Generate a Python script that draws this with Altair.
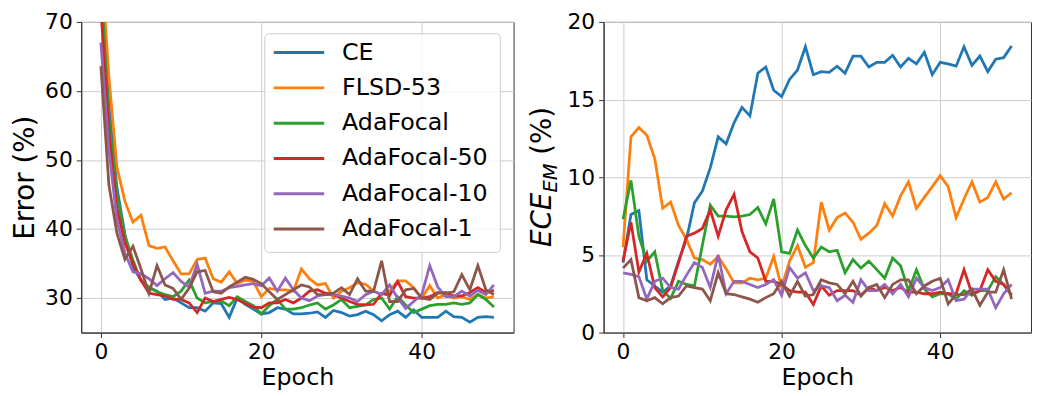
import altair as alt
import pandas as pd

epochs = list(range(50))
series_names = ["CE", "FLSD-53", "AdaFocal", "AdaFocal-50", "AdaFocal-10", "AdaFocal-1"]
colors = ["#1f77b4", "#ff7f0e", "#2ca02c", "#d62728", "#9467bd", "#8c564b"]

# Left panel: Error (%)
err_ce = [78.0, 58.0, 46.0, 39.2, 34.5, 32.6, 31.5, 31.0, 29.8, 30.0,
          29.3, 28.6, 28.6, 28.1, 29.3, 29.2, 27.2, 30.0, 29.1, 28.4,
          27.7, 27.9, 28.6, 28.4, 27.7, 27.7, 27.8, 28.0, 27.2, 28.2,
          27.9, 27.4, 27.6, 28.1, 27.6, 26.7, 27.6, 28.1, 27.2, 28.3,
          27.2, 27.2, 27.2, 28.1, 27.3, 27.2, 26.5, 27.2, 27.3, 27.2]
err_flsd = [80.0, 62.0, 49.0, 44.0, 41.0, 42.0, 37.6, 37.2, 37.4, 35.4,
            33.5, 33.5, 35.6, 35.8, 32.8, 32.3, 33.8, 32.1, 32.6, 32.4,
            30.2, 31.4, 31.2, 31.2, 31.0, 34.2, 32.8, 31.9, 32.1, 30.0,
            31.0, 31.5, 32.2, 32.0, 31.0, 30.5, 31.0, 32.5, 32.5, 31.5,
            30.0, 31.8, 30.0, 30.5, 30.0, 30.2, 29.8, 30.5, 30.0, 30.2]
err_ada = [76.0, 56.0, 45.0, 39.0, 35.5, 32.5, 31.6, 30.9, 30.5, 30.2,
           31.0, 32.6, 30.0, 29.3, 29.5, 29.6, 28.9, 30.2, 29.5, 28.9,
           27.7, 28.9, 29.8, 28.4, 28.4, 28.6, 29.0, 29.3, 28.4, 29.0,
           29.8, 28.6, 28.8, 29.0, 29.8, 30.0, 28.4, 30.2, 29.0, 27.9,
           28.4, 28.9, 29.1, 29.1, 29.3, 29.1, 29.3, 30.5, 29.8, 28.7]
err_a50 = [72.0, 54.0, 43.0, 38.0, 35.0, 32.6, 30.7, 30.5, 30.3, 29.8,
           29.8, 29.3, 27.9, 30.0, 29.5, 29.8, 30.1, 29.8, 29.2, 28.7,
           28.6, 29.3, 29.3, 29.8, 29.3, 30.0, 31.0, 31.2, 30.7, 30.5,
           30.0, 29.5, 29.1, 29.0, 29.1, 30.7, 30.4, 32.4, 30.2, 30.0,
           30.0, 30.2, 30.8, 30.8, 30.3, 30.3, 30.8, 31.5, 30.8, 31.1]
err_a10 = [67.0, 51.5, 41.3, 36.5, 33.8, 33.5, 32.8, 31.8, 32.8, 33.7,
           32.4, 31.6, 34.9, 30.7, 31.0, 31.0, 31.5, 31.7, 31.9, 32.1,
           31.8, 32.9, 31.0, 32.9, 31.2, 30.0, 29.6, 30.3, 30.5, 30.5,
           30.3, 30.0, 29.5, 30.5, 31.0, 30.5, 31.9, 30.0, 28.5, 29.5,
           30.5, 34.7, 31.6, 30.2, 30.2, 31.0, 30.3, 31.1, 30.5, 31.9]
err_a1 = [63.6, 46.4, 39.4, 35.6, 37.5, 34.2, 30.7, 34.7, 31.9, 31.4,
          29.8, 31.4, 33.8, 34.0, 30.9, 30.7, 31.6, 32.3, 33.0, 32.7,
          32.1, 30.9, 29.8, 30.5, 31.2, 31.9, 31.6, 30.5, 30.5, 30.7,
          31.5, 30.5, 32.8, 31.0, 31.0, 35.4, 29.5, 29.5, 31.2, 31.4,
          30.0, 29.8, 30.7, 30.7, 30.9, 33.4, 31.2, 34.7, 31.2, 30.5]

# Right panel: ECE_EM (%)
ece_ce = [4.5, 7.6, 7.85, 3.4, 3.0, 2.6, 3.0, 4.6, 6.0, 8.35,
          9.1, 10.6, 12.6, 12.15, 13.5, 14.5, 13.95, 16.7, 17.1, 15.6,
          15.2, 16.3, 16.9, 18.4, 16.6, 16.8, 16.75, 17.15, 16.7, 17.8,
          17.8, 17.1, 17.4, 17.4, 17.85, 17.1, 17.65, 17.3, 18.05, 16.6,
          17.4, 17.3, 17.15, 18.4, 17.2, 17.8, 16.8, 17.6, 17.7, 18.45]
ece_flsd = [5.5, 12.6, 13.2, 12.7, 11.2, 8.0, 8.4, 6.9, 6.0, 4.8,
            4.7, 4.4, 4.9, 4.1, 3.2, 3.2, 3.5, 3.4, 3.5, 4.9,
            2.9, 4.6, 5.6, 4.2, 4.5, 8.4, 6.6, 7.4, 7.7, 7.1,
            6.0, 6.4, 6.9, 8.3, 7.5, 8.8, 9.7, 8.0, 8.7, 9.4,
            10.1, 9.4, 7.4, 8.6, 9.7, 8.4, 8.7, 9.7, 8.6, 9.0]
ece_ada = [7.3, 9.8, 6.2, 4.6, 5.2, 2.7, 2.2, 3.3, 3.1, 3.0,
           5.6, 8.2, 7.5, 7.5, 7.45, 7.5, 7.6, 8.05, 7.0, 8.6,
           5.2, 5.1, 6.6, 5.6, 4.8, 5.5, 5.2, 5.3, 3.85, 4.7,
           4.15, 4.6, 4.05, 3.5, 4.8, 4.3, 2.7, 4.05, 2.8, 2.3,
           2.5, 2.5, 2.15, 2.7, 2.4, 2.7, 2.7, 3.6, 3.1, 2.4]
ece_a50 = [4.6, 7.1, 3.9, 5.1, 2.9, 2.3, 2.9, 4.5, 6.2, 6.4,
           6.7, 7.9, 6.2, 7.9, 8.9, 6.5, 5.2, 4.8, 3.3, 3.3,
           3.1, 2.7, 2.6, 2.6, 1.8, 3.0, 2.4, 2.7, 2.7, 2.7,
           2.4, 2.9, 2.7, 2.9, 2.7, 2.9, 2.6, 2.6, 2.5, 2.5,
           2.6, 2.5, 2.5, 4.05, 2.5, 2.7, 4.05, 3.3, 3.1, 2.4]
ece_a10 = [3.85, 3.75, 3.6, 2.15, 3.3, 3.5, 2.9, 2.8, 3.7, 4.5,
           4.2, 2.9, 5.0, 2.5, 3.3, 3.3, 3.1, 2.9, 3.1, 3.4,
           2.4, 4.2, 3.5, 3.85, 2.7, 3.0, 2.9, 2.05, 2.4, 1.95,
           3.4, 2.7, 2.7, 3.1, 2.5, 3.1, 2.3, 3.5, 2.9, 2.7,
           2.9, 3.4, 2.05, 2.15, 2.8, 2.8, 2.8, 1.6, 2.5, 3.1]
ece_a1 = [4.15, 4.7, 2.25, 2.05, 2.25, 1.85, 2.25, 2.35, 3.0, 2.9,
          2.8, 2.05, 3.85, 2.5, 2.45, 2.3, 2.15, 1.95, 2.25, 2.5,
          3.3, 2.35, 3.3, 2.35, 2.45, 3.4, 3.2, 3.1, 2.5, 3.3,
          2.35, 2.9, 3.1, 2.25, 3.1, 3.4, 3.4, 2.5, 3.0, 3.3,
          3.5, 1.85, 2.45, 2.45, 2.8, 1.75, 2.6, 2.6, 4.05, 2.15]

err_series = [err_ce, err_flsd, err_ada, err_a50, err_a10, err_a1]
ece_series = [ece_ce, ece_flsd, ece_ada, ece_a50, ece_a10, ece_a1]


def long_df(series_list):
    rows = []
    for name, vals in zip(series_names, series_list):
        for e, v in zip(epochs, vals):
            rows.append({"series": name, "epoch": e, "value": v})
    return pd.DataFrame(rows)


err_df = long_df(err_series)
ece_df = long_df(ece_series)
legend_df = pd.DataFrame({"series": series_names})

FONT = "DejaVu Sans"
W_L, W_R, H = 437, 432, 314

x_enc = alt.X("epoch:Q",
              scale=alt.Scale(domain=[-2.45, 51.45], nice=False, zero=False),
              axis=alt.Axis(values=[0, 20, 40], title="Epoch"))
color_enc = alt.Color("series:N",
                      scale=alt.Scale(domain=series_names, range=colors),
                      sort=series_names, legend=None)

left_lines = alt.Chart(err_df).mark_line(clip=True, strokeWidth=2.8).encode(
    x=x_enc,
    y=alt.Y("value:Q",
            scale=alt.Scale(domain=[25, 70], nice=False, zero=False),
            axis=alt.Axis(values=[30, 40, 50, 60, 70], title="Error (%)",
                          titlePadding=5)),
    color=color_enc,
)

# legend drawn inside the left panel
leg_y = alt.Y("series:N",
              scale=alt.Scale(type="point", domain=series_names,
                              range=[31, 209.3], padding=0),
              axis=None)
leg_box = alt.Chart(pd.DataFrame({"k": [0]})).mark_rect(
    fill="white", fillOpacity=0.8, stroke="#cccccc", strokeWidth=1,
    cornerRadius=4
).encode(x=alt.value(185.6), x2=alt.value(423.6), y=alt.value(12), y2=alt.value(233))
leg_rules = alt.Chart(legend_df).mark_rule(strokeWidth=3).encode(
    x=alt.value(194.6), x2=alt.value(245.6), y=leg_y, color=color_enc)
leg_text = alt.Chart(legend_df).mark_text(
    align="left", baseline="middle", fontSize=24, font=FONT, color="black"
).encode(x=alt.value(263.6), y=leg_y, text="series:N")

left = alt.layer(left_lines, leg_box, leg_rules, leg_text).resolve_scale(
    y="independent").properties(width=W_L, height=H)

right_lines = alt.Chart(ece_df).mark_line(clip=True, strokeWidth=2.8).encode(
    x=x_enc,
    y=alt.Y("value:Q",
            scale=alt.Scale(domain=[0, 20], nice=False, zero=False),
            axis=alt.Axis(values=[0, 5, 10, 15, 20], title=None)),
    color=color_enc,
)

t_ece = alt.Chart(pd.DataFrame({"t": ["ECE"]})).mark_text(
    angle=270, align="left", baseline="alphabetic", fontSize=28,
    fontStyle="italic", font=FONT, color="black"
).encode(text="t:N", x=alt.value(-53), y=alt.value(227.5))

t_sub = alt.Chart(pd.DataFrame({"t": ["EM"]})).mark_text(
    angle=270, align="left", baseline="alphabetic", fontSize=19.6,
    fontStyle="italic", font=FONT, color="black"
).encode(text="t:N", x=alt.value(-47), y=alt.value(172.5))

t_pct = alt.Chart(pd.DataFrame({"t": ["(%)"]})).mark_text(
    angle=270, align="left", baseline="alphabetic", fontSize=28,
    font=FONT, color="black"
).encode(text="t:N", x=alt.value(-53), y=alt.value(134.3))

right = alt.layer(right_lines, t_ece, t_sub, t_pct).properties(width=W_R, height=H)

chart = alt.hconcat(left, right, spacing=91, bounds="flush").resolve_scale(
    color="independent"
).configure_axis(
    labelFont=FONT, titleFont=FONT, labelFontSize=22, titleFontSize=24,
    labelColor="black", titleColor="black", titleFontWeight="normal",
    tickColor="#333333", domainColor="#333333", gridColor="#cccccc",
    tickSize=5, labelPadding=4, titlePadding=3, gridWidth=1
).configure_axisY(titleFontSize=28).configure_view(
    stroke="#333333", strokeWidth=1
).properties(padding={"left": 3, "top": 0, "right": 0, "bottom": 0})

chart.save("out.html", embed_options={"renderer": "svg", "actions": False})
